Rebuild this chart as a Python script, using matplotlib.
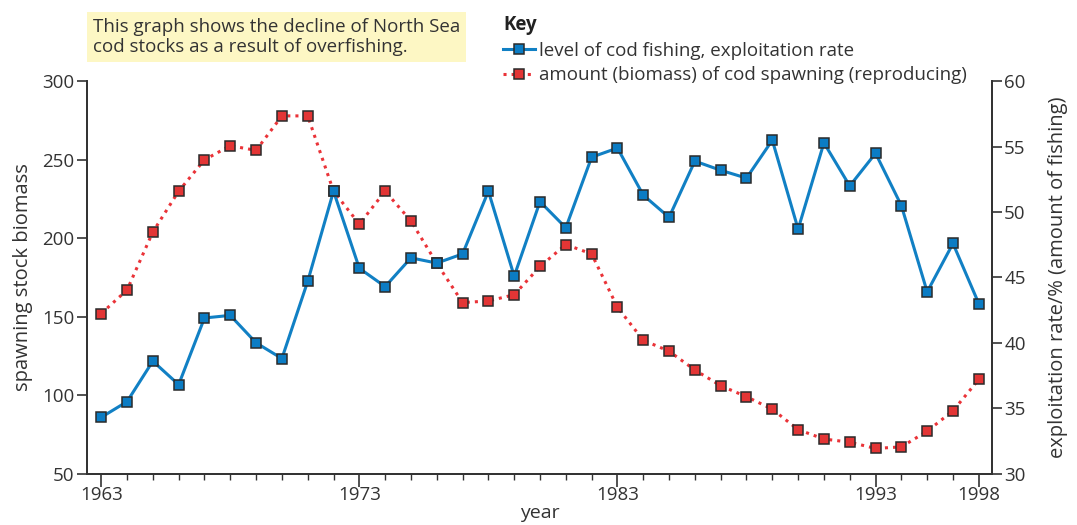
import matplotlib
matplotlib.use("Agg")
import matplotlib.pyplot as plt
from matplotlib.ticker import MultipleLocator

plt.rcParams['font.family'] = ['Open Sans', 'DejaVu Sans']

# data (one point per year, last tick is labelled 1998)
years = list(range(1963, 1998))
exploitation = [34.3, 35.5, 38.6, 36.8, 41.9, 42.1, 40.0, 38.8, 44.7, 51.6,
                45.7, 44.3, 46.5, 46.1, 46.8, 51.6, 45.1, 50.8, 48.8, 54.2,
                54.9, 51.3, 49.6, 53.9, 53.2, 52.6, 55.5, 48.7, 55.3, 52.0,
                54.5, 50.5, 43.9, 47.6, 43.0]
biomass = [152, 167, 204, 230, 250, 259, 256, 278, 278, 230,
           209, 230, 211, 184, 159, 160, 164, 182, 196, 190,
           156, 135, 128, 116, 106, 99, 91, 78, 72, 70,
           66, 67, 77, 90, 110]
tick_years = [1963, 1973, 1983, 1993, 1997]
tick_labels = ['1963', '1973', '1983', '1993', '1998']

text_col = '#333333'
blue = '#1180c4'
red = '#ea3338'

fig = plt.figure(figsize=(10.77, 5.25), dpi=100)
ax = fig.add_axes([0.0808, 0.098, 0.84, 0.747])
ax2 = ax.twinx()

red_line, = ax.plot(years, biomass, color=red, linestyle=':', linewidth=2.2,
                    marker='s', markersize=7, markerfacecolor='#e33535',
                    markeredgecolor='#2a2a2a', markeredgewidth=1.1,
                    label='amount (biomass) of cod spawning (reproducing)')
blue_line, = ax2.plot(years, exploitation, color=blue, linestyle='-', linewidth=2.2,
                      marker='s', markersize=7, markerfacecolor='#0b7cc4',
                      markeredgecolor='#2a2a2a', markeredgewidth=1.1,
                      label='level of cod fishing, exploitation rate')

ax.set_xlim(1962.45, 1997.5)
ax.set_ylim(50, 300)
ax2.set_ylim(30, 60)
ax.set_xticks(tick_years)
ax.set_xticklabels(tick_labels)
ax.xaxis.set_minor_locator(MultipleLocator(1))
ax.set_yticks([50, 100, 150, 200, 250, 300])
ax2.set_yticks([30, 35, 40, 45, 50, 55, 60])

for a in (ax, ax2):
    a.spines['top'].set_visible(False)
    for s in a.spines.values():
        s.set_color(text_col)
        s.set_linewidth(1.3)
    a.tick_params(colors=text_col, labelsize=13.5, width=1.2, length=7, pad=2)
ax.tick_params(axis='x', which='minor', length=4, width=1, colors=text_col)
ax.tick_params(axis='x', which='major', length=9, pad=0)

ax.set_xlabel('year', fontsize=14, color=text_col, labelpad=0)
ax.set_ylabel('spawning stock biomass', fontsize=14.5, color=text_col, labelpad=7)
ax2.set_ylabel('exploitation rate/% (amount of fishing)', fontsize=14.5,
               color=text_col, labelpad=16)

fig.text(93 / 1077, 1 - 37 / 525,
         'This graph shows the decline of North Sea\ncod stocks as a result of overfishing.',
         fontsize=13.5, color=text_col, va='center', ha='left', linespacing=1.15,
         bbox=dict(boxstyle='square,pad=0.3', fc='#fdf7c4', ec='none'))

leg = fig.legend([blue_line, red_line],
                 [blue_line.get_label(), red_line.get_label()],
                 loc='upper left', bbox_to_anchor=(503 / 1077, 1 - 15 / 525),
                 frameon=False, title='Key', alignment='left',
                 title_fontproperties={'weight': 'bold', 'size': 13.5},
                 fontsize=13.5, handlelength=1.7, handletextpad=0.2,
                 borderpad=0, borderaxespad=0, labelspacing=0.35)
for t in leg.get_texts():
    t.set_color(text_col)
leg.get_title().set_color('#222222')

fig.savefig('out.png', dpi=100)
